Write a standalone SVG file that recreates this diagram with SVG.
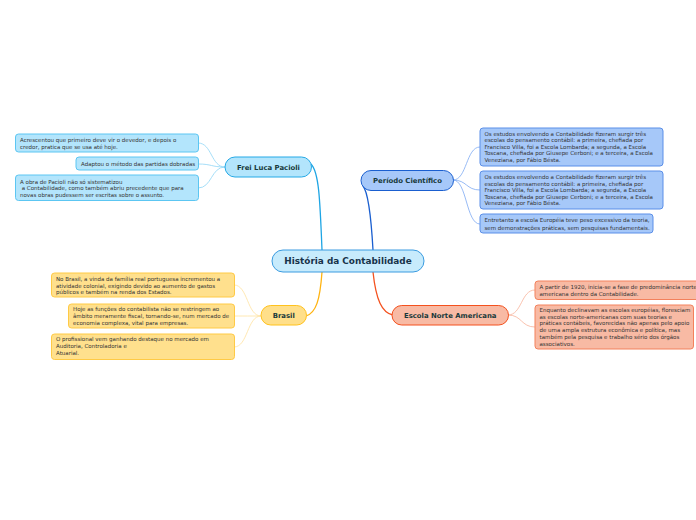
<svg xmlns="http://www.w3.org/2000/svg" width="696" height="520" viewBox="0 0 696 520">
<style>
text{font-family:"DejaVu Sans","Verdana",sans-serif;}
.leaf{font-size:5.5px;fill:#333;}
.hd{font-size:6.9px;font-weight:bold;fill:#17393a;text-anchor:middle;}
.title{font-size:8.9px;font-weight:bold;fill:#17334a;text-anchor:middle;}
.c{fill:none;}
.fl{fill:#b3e5fc;stroke:#5cc6f2;stroke-width:1;}
.pl{fill:#a6c8f9;stroke:#5b8fe8;stroke-width:1;}
.bl{fill:#ffe08d;stroke:#ffca45;stroke-width:1;}
.el{fill:#f8baa4;stroke:#f3815c;stroke-width:1;}
</style>
<rect width="696" height="520" fill="#fff"/>
<g id="connectors">
  <path class="c" d="M322,250 C320,200 319,172 311,164" stroke="#1ea5e4" stroke-width="1.3"/>
  <path class="c" d="M373,250 C371,215 368,192 363,186" stroke="#1a5fd0" stroke-width="1.3"/>
  <path class="c" d="M322,272 C320,300 316,313 306,316" stroke="#ffb310" stroke-width="1.3"/>
  <path class="c" d="M373,272 C376,300 382,313 393,315" stroke="#f4511e" stroke-width="1.3"/>
  <g stroke="#8fd6f6" stroke-width="0.8" fill="none">
    <path d="M225,167 C211,167 212,143 198,143"/>
    <path d="M225,167 C211,167 212,164 198,164"/>
    <path d="M225,167 C211,167 212,188 198,188"/>
  </g>
  <g stroke="#7eaaf2" stroke-width="0.8" fill="none">
    <path d="M453,180 C467,180 466,147 480,147"/>
    <path d="M453,180 C467,180 466,190 480,190"/>
    <path d="M453,180 C467,180 466,224 480,224"/>
  </g>
  <g stroke="#ffe2a0" stroke-width="0.8" fill="none">
    <path d="M261,316 C247,316 248,285 234,285"/>
    <path d="M261,316 C247,316 248,316 234,316"/>
    <path d="M261,316 C247,316 248,347 234,347"/>
  </g>
  <g stroke="#f8b29a" stroke-width="0.8" fill="none">
    <path d="M508,315 C522,315 521,290 535,290"/>
    <path d="M508,315 C522,315 521,327 535,327"/>
  </g>
</g>
<g id="central">
  <rect x="272" y="250" width="152" height="22" rx="11" fill="#c7ebfc" stroke="#3a9be0" stroke-width="1"/>
  <text class="title" x="348" y="264.3">História da Contabilidade</text>
</g>
<g id="frei">
  <rect x="225" y="157" width="86.5" height="20" rx="10" fill="#b3e5fc" stroke="#25a9e6" stroke-width="1"/>
  <text class="hd" x="268.5" y="169.6">Frei Luca Pacioli</text>
</g>
<g id="frei1">
  <rect class="fl" x="15.5" y="134" width="183" height="18" rx="3"/>
  <text class="leaf" x="20" y="141.8">Acrescentou que primeiro deve vir o devedor, e depois o</text>
  <text class="leaf" x="20" y="149.3">credor, pratica que se usa até hoje.</text>
</g>
<g id="frei2">
  <rect class="fl" x="76" y="157" width="122.5" height="13" rx="3"/>
  <text class="leaf" x="81" y="165.6">Adaptou o método das partidas dobradas</text>
</g>
<g id="frei3">
  <rect class="fl" x="15.5" y="175" width="183" height="25.5" rx="3"/>
  <text class="leaf" x="20" y="183.5">A obra de Pacioli não só sistematizou</text>
  <text class="leaf" x="20" y="190" xml:space="preserve"> a Contabilidade, como também abriu precedente que para</text>
  <text class="leaf" x="20" y="196.8">novas obras pudessem ser escritas sobre o assunto.</text>
</g>
<g id="periodo">
  <rect x="361" y="170.5" width="92.5" height="20" rx="10" fill="#a6c8f9" stroke="#1a5fd0" stroke-width="1"/>
  <text class="hd" x="407.5" y="183">Período Científico</text>
</g>
<g id="periodo1">
  <rect class="pl" x="480" y="128" width="183" height="38" rx="3"/>
  <text class="leaf" x="484.5" y="135.8">Os estudos envolvendo a Contabilidade fizeram surgir três</text>
  <text class="leaf" x="484.5" y="142.4">escolas do pensamento contábil: a primeira, chefiada por</text>
  <text class="leaf" x="484.5" y="148.8">Francisco Villa, foi a Escola Lombarda; a segunda, a Escola</text>
  <text class="leaf" x="484.5" y="155.3">Toscana, chefiada por Giusepe Cerboni; e a terceira, a Escola</text>
  <text class="leaf" x="484.5" y="161.8">Veneziana, por Fábio Bésta.</text>
</g>
<g id="periodo2">
  <rect class="pl" x="480" y="171" width="183" height="38" rx="3"/>
  <text class="leaf" x="484.5" y="179">Os estudos envolvendo a Contabilidade fizeram surgir três</text>
  <text class="leaf" x="484.5" y="185.6">escolas do pensamento contábil: a primeira, chefiada por</text>
  <text class="leaf" x="484.5" y="192">Francisco Villa, foi a Escola Lombarda; a segunda, a Escola</text>
  <text class="leaf" x="484.5" y="198.5">Toscana, chefiada por Giusepe Cerboni; e a terceira, a Escola</text>
  <text class="leaf" x="484.5" y="205">Veneziana, por Fábio Bésta.</text>
</g>
<g id="periodo3">
  <rect class="pl" x="480" y="214" width="173" height="19" rx="3"/>
  <text class="leaf" x="484.5" y="221.8">Entretanto a escola Européia teve peso excessivo da teoria,</text>
  <text class="leaf" x="484.5" y="230.3">sem demonstrações práticas, sem pesquisas fundamentais.</text>
</g>
<g id="brasil">
  <rect x="261" y="305.5" width="45.5" height="19.5" rx="9.75" fill="#ffdf8a" stroke="#ffc21d" stroke-width="1"/>
  <text class="hd" x="283.7" y="318">Brasil</text>
</g>
<g id="brasil1">
  <rect class="bl" x="51.5" y="273" width="183" height="24" rx="3"/>
  <text class="leaf" x="56" y="281">No Brasil, a vinda da família real portuguesa incrementou a</text>
  <text class="leaf" x="56" y="287.7">atividade colonial, exigindo devido ao aumento de gastos</text>
  <text class="leaf" x="56" y="294">públicos e também na renda dos Estados.</text>
</g>
<g id="brasil2">
  <rect class="bl" x="68.5" y="304" width="166" height="24" rx="3"/>
  <text class="leaf" x="73" y="311">Hoje as funções do contabilista não se restringem ao</text>
  <text class="leaf" x="73" y="318">âmbito meramente fiscal, tornando-se, num mercado de</text>
  <text class="leaf" x="73" y="325">economia complexa, vital para empresas.</text>
</g>
<g id="brasil3">
  <rect class="bl" x="51.5" y="334" width="183" height="25.5" rx="3"/>
  <text class="leaf" x="56" y="340.7">O profissional vem ganhando destaque no mercado em</text>
  <text class="leaf" x="56" y="347.7">Auditoria, Controladoria e</text>
  <text class="leaf" x="56" y="355">Atuarial.</text>
</g>
<g id="escola">
  <rect x="392" y="305.5" width="116.5" height="19.5" rx="9.75" fill="#f8baa4" stroke="#f4511e" stroke-width="1"/>
  <text class="hd" x="450.2" y="318">Escola Norte Americana</text>
</g>
<g id="escola1">
  <rect class="el" x="535" y="281" width="166" height="18.5" rx="3"/>
  <text class="leaf" x="539.5" y="289">A partir de 1920, inicia-se a fase de predominância norte-</text>
  <text class="leaf" x="539.5" y="295.7">americana dentro da Contabilidade.</text>
</g>
<g id="escola2">
  <rect class="el" x="535" y="305" width="158.5" height="44" rx="3"/>
  <text class="leaf" x="539.5" y="311.8">Enquanto declinavam as escolas européias, floresciam</text>
  <text class="leaf" x="539.5" y="319">as escolas norte-americanas com suas teorias e</text>
  <text class="leaf" x="539.5" y="325.4">práticas contábeis, favorecidas não apenas pelo apoio</text>
  <text class="leaf" x="539.5" y="332.4">de uma ampla estrutura econômica e política, mas</text>
  <text class="leaf" x="539.5" y="339">também pela pesquisa e trabalho sério dos órgãos</text>
  <text class="leaf" x="539.5" y="345.7">associativos.</text>
</g>
</svg>
